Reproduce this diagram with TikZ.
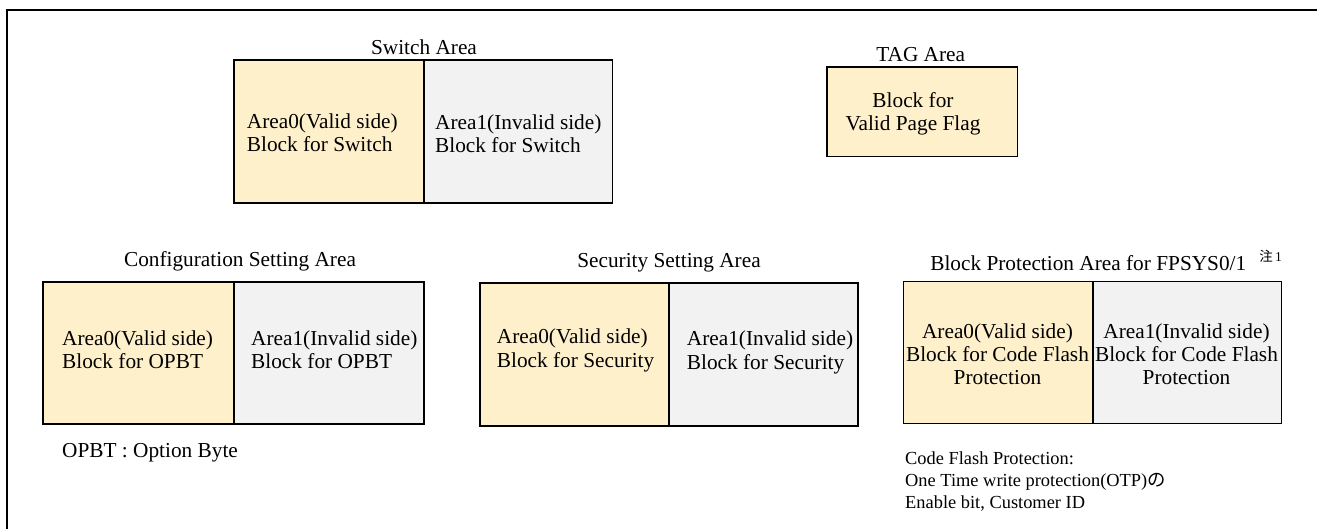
\documentclass[tikz,border=0pt]{standalone}
\usepackage{fontspec}
\setmainfont{Liberation Serif}
\newfontfamily\cjk{Noto Sans CJK JP}
\definecolor{validfill}{HTML}{FFF0CC}
\definecolor{invalidfill}{HTML}{F2F2F2}
\begin{document}
\begin{tikzpicture}[x=1pt,y=-1pt,
  half/.style={draw=black, line width=1.6pt, inner sep=0pt, anchor=north west},
  validbox/.style={half, fill=validfill},
  invalidbox/.style={half, fill=invalidfill},
  lbl/.style={inner sep=0pt, font=\fontsize{21.3}{23.3}\selectfont},
  boxtxt/.style={lbl, align=left, anchor=west},
  ctrtxt/.style={lbl, align=center},
  notetxt/.style={inner sep=0pt, align=left, anchor=west, font=\fontsize{18.4}{21.7}\selectfont}]
\useasboundingbox (0,0) rectangle (1317,529);
\fill[white] (0,0) rectangle (1317,529);
% frame (top and left only)
\draw[line width=2pt] (6.5,529) -- (6.5,10) -- (1317,10);

% Switch Area
\node[lbl] (swlbl) at (424,47) {Switch Area};
\node[validbox, minimum width=190pt, minimum height=143pt] (sw0) at (233.3,59.3) {};
\node[invalidbox, minimum width=188.4pt, minimum height=143pt] (sw1) at (423.3,59.3) {};
\node[boxtxt] (sw0t) at (246.7,132.5) {Area0(Valid side)\\Block for Switch};
\node[boxtxt] (sw1t) at (435,133.5) {Area1(Invalid side)\\Block for Switch};

% TAG Area
\node[lbl] (taglbl) at (920.7,55) {TAG Area};
\node[validbox, minimum width=190.7pt, minimum height=89.7pt] (tag) at (826,66) {};
\node[ctrtxt] (tagt) at (913,114) {Block for\\Valid Page Flag};

% Configuration Setting Area
\node[lbl] (cfglbl) at (240,261) {Configuration Setting Area};
\node[validbox, minimum width=191pt, minimum height=142pt] (cfg0) at (42,281) {};
\node[invalidbox, minimum width=190pt, minimum height=142pt] (cfg1) at (233,281) {};
\node[boxtxt] (cfg0t) at (62,349.5) {Area0(Valid side)\\Block for OPBT};
\node[boxtxt] (cfg1t) at (251,349.5) {Area1(Invalid side)\\Block for OPBT};
\node[lbl, anchor=west] (opbt) at (62,453) {OPBT : Option Byte};

% Security Setting Area
\node[lbl] (seclbl) at (669,263) {Security Setting Area};
\node[validbox, minimum width=189.3pt, minimum height=142.7pt] (sec0) at (479,282.3) {};
\node[invalidbox, minimum width=189pt, minimum height=142.7pt] (sec1) at (668.3,282.3) {};
\node[boxtxt] (sec0t) at (496.7,350.5) {Area0(Valid side)\\Block for Security};
\node[boxtxt] (sec1t) at (686.7,352.3) {Area1(Invalid side)\\Block for Security};

% Block Protection Area
\node[lbl] (bplbl) at (1088.3,263.3) {Block Protection Area for FPSYS0/1};
\node[inner sep=0pt, font=\fontsize{13.5}{15}\selectfont] (bpnote) at (1270.5,256) {{\cjk 注}\,1};
\node[validbox, minimum width=189.6pt, minimum height=142pt] (bp0) at (902.7,280.7) {};
\node[invalidbox, minimum width=188.4pt, minimum height=142pt] (bp1) at (1092.3,280.7) {};
\node[ctrtxt] (bp0t) at (997.5,354.3) {Area0(Valid side)\\Block for Code Flash\\Protection};
\node[ctrtxt] (bp1t) at (1186.5,354.3) {Area1(Invalid side)\\Block for Code Flash\\Protection};
\node[notetxt] (cfpnote) at (905,481.5) {Code Flash Protection:\\One Time write protection(OTP){\cjk の}\\Enable bit, Customer ID};
\end{tikzpicture}
\end{document}
